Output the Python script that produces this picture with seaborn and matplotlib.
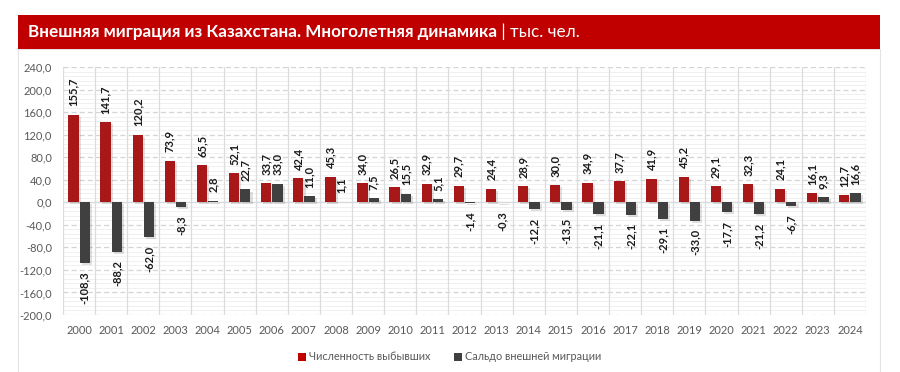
import matplotlib
matplotlib.use("Agg")
import matplotlib.pyplot as plt
import matplotlib.patheffects as pe
from matplotlib.patches import Rectangle, Patch
from matplotlib.ticker import MultipleLocator, FuncFormatter
import numpy as np
import pandas as pd
import seaborn as sns

years = [str(y) for y in range(2000, 2025)]
emigrants = [155.7, 141.7, 120.2, 73.9, 65.5, 52.1, 33.7, 42.4, 45.3, 34.0, 26.5, 32.9, 29.7,
             24.4, 28.9, 30.0, 34.9, 37.7, 41.9, 45.2, 29.1, 32.3, 24.1, 16.1, 12.7]
net_migration = [-108.3, -88.2, -62.0, -8.3, 2.8, 22.7, 33.0, 11.0, 1.1, 7.5, 15.5, 5.1, -1.4,
                 -0.3, -12.2, -13.5, -21.1, -22.1, -29.1, -33.0, -17.7, -21.2, -6.7, 9.3, 16.6]
series_names = ["Численность выбывших", "Сальдо внешней миграции"]
title_bold = "Внешняя миграция из Казахстана. Многолетняя динамика"
title_unit = " | тыс. чел."

RED = "#C00000"
GRAY = "#404040"

sns.set_style("white")
plt.rcParams["font.family"] = ["Lato", "DejaVu Sans"]

df = pd.DataFrame({
    "year": years * 2,
    "value": emigrants + net_migration,
    "series": [series_names[0]] * len(years) + [series_names[1]] * len(years),
})

fig = plt.figure(figsize=(9, 3.72), dpi=100)
W, H = 900, 372

# panel border and banner
fig.patches.append(Rectangle((18 / W, -0.01), (880 - 18) / W, (372 - 49) / H + 0.01,
                             transform=fig.transFigure, facecolor="white",
                             edgecolor="#e3e3e3", linewidth=0.8, zorder=-2))
fig.patches.append(Rectangle((18 / W, 1 - 49 / H), (880 - 18) / W, 34 / H,
                             transform=fig.transFigure, facecolor=RED,
                             edgecolor="none", zorder=-1))

ax = fig.add_axes([63 / W, 1 - 315 / H, (866 - 63) / W, (315 - 67) / H])
ax.set_zorder(2)
ax.set_facecolor("none")

sns.barplot(data=df, x="year", y="value", hue="series", palette=[RED, GRAY],
            width=0.7, gap=0.08, ax=ax, legend=False, zorder=3)

shadow = [pe.SimplePatchShadow(offset=(1.5, -1.5), shadow_rgbFace="#000000", alpha=0.12),
          pe.Normal()]
for p in ax.patches:
    p.set_path_effects(shadow)
    p.set_edgecolor("none")

ax.set_ylim(-200, 240)
ax.set_xlim(-0.5, len(years) - 0.5)
ax.yaxis.set_major_locator(MultipleLocator(40))
ax.yaxis.set_major_formatter(FuncFormatter(lambda v, pos: f"{v:.1f}".replace(".", ",")))

# grid
for yv in np.arange(-200, 241, 8):
    if yv % 40 == 0:
        continue
    ax.axhline(yv, color="#f0f0f0", lw=0.7, zorder=0)
for yv in np.arange(-200, 241, 40):
    if yv == 0:
        ax.axhline(0, color="#d9d9d9", lw=1.0, zorder=1)
    else:
        ax.axhline(yv, color="#d4d4d4", lw=0.9, ls=(0, (4, 2.5)), zorder=1)
for xv in np.arange(-0.5, len(years), 1.0):
    ax.axvline(xv, color="#dcdcdc", lw=0.9, zorder=1)

for s in ax.spines.values():
    s.set_visible(False)
ax.tick_params(axis="both", length=0, labelsize=8, colors="#595959")
ax.tick_params(axis="x", pad=7)
ax.tick_params(axis="y", pad=8)
ax.set_xlabel("")
ax.set_ylabel("")

# labels
n = len(years)
bars = ax.patches[:2 * n]
for i, p in enumerate(bars):
    v = df["value"].iloc[i]
    xc = p.get_x() + p.get_width() / 2
    txt = f"{v:.1f}".replace(".", ",")
    if v >= 0:
        ax.annotate(txt, (xc, v), xytext=(0, 6), textcoords="offset points",
                    rotation=90, ha="center", va="bottom", fontsize=8,
                    fontweight="bold", color="#1a1a1a", zorder=5)
    else:
        ax.annotate(txt, (xc, v), xytext=(0, -6), textcoords="offset points",
                    rotation=90, ha="center", va="top", fontsize=8,
                    fontweight="bold", color="#1a1a1a", zorder=5)

# title
t1 = fig.text(28 / W, 1 - 32 / H, title_bold, color="white", fontsize=12.3,
              fontweight="bold", va="center", ha="left", zorder=3)
fig.canvas.draw()
bb = t1.get_window_extent()
fig.text(bb.x1 / W, 1 - 32 / H, title_unit, color="white", fontsize=12.3,
         va="center", ha="left", zorder=3)

handles = [Patch(facecolor=RED, edgecolor="none"), Patch(facecolor=GRAY, edgecolor="none")]
fig.legend(handles, series_names, loc="center", bbox_to_anchor=(0.5, 1 - 357 / H),
           ncol=2, frameon=False, fontsize=7.8, handlelength=0.7, handleheight=0.7,
           handletextpad=0.3, columnspacing=2.2, labelcolor="#595959")

fig.savefig("out.png", dpi=100)
